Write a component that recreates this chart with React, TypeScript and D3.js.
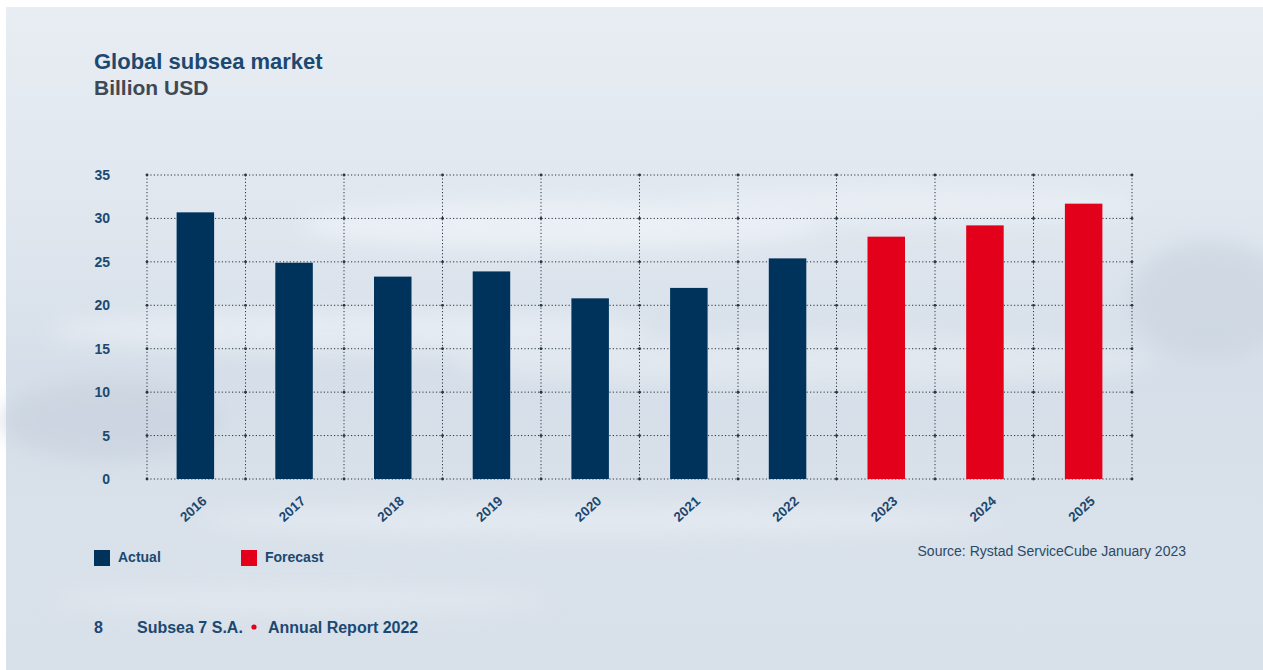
import React from "react";
import * as d3 from "d3";

const years = ["2016", "2017", "2018", "2019", "2020", "2021", "2022", "2023", "2024", "2025"];
const values = [30.7, 24.9, 23.3, 23.9, 20.8, 22.0, 25.4, 27.9, 29.2, 31.7];
const kinds = ["Actual", "Actual", "Actual", "Actual", "Actual", "Actual", "Actual", "Forecast", "Forecast", "Forecast"];
const yTicks = [0, 5, 10, 15, 20, 25, 30, 35];
const legendItems = ["Actual", "Forecast"];

const NAVY = "#00335c";
const RED = "#e2001a";
const FONT = "Liberation Sans, Arial, Helvetica, sans-serif";

export default function App() {
  const W = 1263, H = 670;
  const x0 = 147, x1 = 1132, yTop = 175, yBot = 479;
  const x = d3.scaleBand<string>().domain(years).range([x0, x1]).paddingInner(0.62).paddingOuter(0.3);
  const xb = d3.scaleBand<string>().domain(years).range([x0, x1]);
  const y = d3.scaleLinear().domain([0, 35]).range([yBot, yTop]);
  const color = d3.scaleOrdinal<string, string>().domain(legendItems).range([NAVY, RED]);
  const vLines = years.map((yr) => xb(yr)!).concat([x1]);

  return (
    <svg width={W} height={H} style={{ position: "absolute", left: 0, top: 0 }}>
      <defs>
        <linearGradient id="bg" x1="0" y1="0" x2="0" y2="1">
          <stop offset="0" stopColor="#e8edf3" />
          <stop offset="0.3" stopColor="#e0e7ef" />
          <stop offset="0.55" stopColor="#d6dfe9" />
          <stop offset="0.8" stopColor="#d9e1ea" />
          <stop offset="1" stopColor="#d8e0e9" />
        </linearGradient>
        <filter id="blur" x="-20%" y="-50%" width="140%" height="200%">
          <feGaussianBlur stdDeviation="10" />
        </filter>
      </defs>
      <rect x={0} y={0} width={W} height={H} fill="#ffffff" />
      <rect x={6} y={7} width={W - 6} height={H - 7} fill="url(#bg)" />
      <g filter="url(#blur)" opacity={0.6}>
        <ellipse cx={560} cy={225} rx={260} ry={25} fill="#f3f6fa" />
        <ellipse cx={900} cy={205} rx={240} ry={18} fill="#eef2f7" />
        <ellipse cx={350} cy={330} rx={300} ry={20} fill="#eef2f7" />
        <ellipse cx={800} cy={360} rx={350} ry={25} fill="#e8edf3" />
        <ellipse cx={110} cy={420} rx={110} ry={40} fill="#c6d0dc" />
        <ellipse cx={1210} cy={300} rx={80} ry={60} fill="#c9d3de" />
        <ellipse cx={600} cy={520} rx={400} ry={16} fill="#e9eef4" />
        <ellipse cx={300} cy={600} rx={250} ry={14} fill="#e6ebf2" />
      </g>

      <text x={94} y={69} fontFamily={FONT} fontWeight="bold" fontSize={22} fill="#1d4870">Global subsea market</text>
      <text x={94} y={95} fontFamily={FONT} fontWeight="bold" fontSize={21} fill="#3f4954">Billion USD</text>

      {/* grid */}
      <g stroke="#2a3440" strokeWidth={1} strokeDasharray="1.2,2.2">
        {yTicks.map((t) => (
          <line key={"h" + t} x1={x0} x2={x1} y1={y(t)} y2={y(t)} />
        ))}
        {vLines.map((vx, i) => (
          <line key={"v" + i} x1={vx} x2={vx} y1={yTop} y2={yBot} />
        ))}
      </g>
      <g fill="#2a3440">
        {yTicks.map((t) => vLines.map((vx, i) => (
          <circle key={t + "-" + i} cx={vx} cy={y(t)} r={1.4} />
        )))}
      </g>

      {/* y tick labels */}
      {yTicks.map((t) => (
        <text key={"yl" + t} x={110} y={y(t)} dominantBaseline="central" textAnchor="end" fontFamily={FONT} fontWeight="bold" fontSize={14} fill="#1d4870">{t}</text>
      ))}

      {/* bars */}
      {years.map((yr, i) => (
        <rect key={yr} x={x(yr)} y={y(values[i])} width={x.bandwidth()} height={yBot - y(values[i])} fill={color(kinds[i])} />
      ))}

      {/* x labels */}
      {years.map((yr) => {
        const cx = x(yr)! + x.bandwidth() / 2 - 2;
        const cy = 509;
        return (
          <text key={"xl" + yr} x={cx} y={cy} textAnchor="middle" dominantBaseline="central" transform={`rotate(-42, ${cx}, ${cy})`} fontFamily={FONT} fontWeight="bold" fontSize={13.5} fill="#1d4870">{yr}</text>
        );
      })}

      {/* legend */}
      {legendItems.map((k, i) => {
        const lx = i === 0 ? 94 : 241;
        return (
          <g key={k}>
            <rect x={lx} y={550} width={16} height={16} fill={color(k)} />
            <text x={lx + 24} y={562} fontFamily={FONT} fontWeight="bold" fontSize={14} fill="#1d4870">{k}</text>
          </g>
        );
      })}
      <text x={1186} y={556} textAnchor="end" fontFamily={FONT} fontSize={14} fill="#2c4a66">Source: Rystad ServiceCube January 2023</text>

      {/* footer */}
      <text x={94} y={633} fontFamily={FONT} fontWeight="bold" fontSize={16} fill="#1d4870">8</text>
      <text x={137} y={633} fontFamily={FONT} fontWeight="bold" fontSize={16} fill="#1d4870">Subsea 7 S.A.</text>
      <circle cx={254} cy={627} r={2.6} fill={RED} />
      <text x={268} y={633} fontFamily={FONT} fontWeight="bold" fontSize={16} fill="#1d4870">Annual Report 2022</text>
    </svg>
  );
}
